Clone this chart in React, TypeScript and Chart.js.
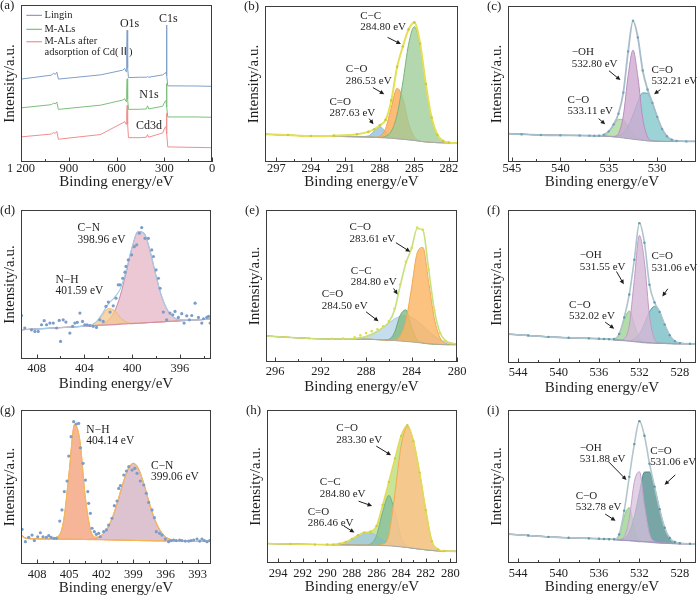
import React, { useEffect, useRef } from 'react';
import { Chart, registerables } from 'chart.js';

Chart.register(...registerables);

const SERIF = '"Liberation Serif", "Times New Roman", "Noto Sans CJK SC", serif';

// ---------------- (a) survey ----------------
const A_X = [1200, 1010, 995, 985, 975, 965, 700, 560, 548, 540, 536, 533, 530, 525, 450, 412, 405, 398, 310, 296, 289, 286, 283, 278, 100, 0];
const A_LIGNIN = [52.8, 55.3, 56.5, 55.8, 57.2, 52.8, 55.5, 58.5, 59.6, 57.5, 70, 84, 60, 53.8, 54, 54, 54.4, 54, 55.5, 56.5, 57, 87.2, 55, 48.5, 48.4, 48.2];
const A_MALS = [34.5, 36.5, 37.5, 37, 38.2, 33.5, 36.2, 39.5, 40.3, 38.5, 46, 53, 40, 33.5, 33.6, 33.8, 35.8, 33.8, 35.5, 38.5, 39, 50, 35, 28.7, 28.7, 28.5];
const A_MALS_CD = [16, 17.8, 18.8, 18.2, 19.5, 14.5, 17.5, 25, 25.8, 24, 30, 36, 24, 15.5, 15.5, 15.8, 17.5, 15.8, 18.5, 22, 22.5, 31, 18, 9.6, 9.3, 9.1];
const A_TICKS = [1200, 900, 600, 300, 0];
const A_TICK_TEXT = ['1 200', '900', '600', '300', '0'];

// ---------------- (b) C1s lignin ----------------
const B_X = [298, 296, 294, 292, 290, 289, 288.5, 288, 287.5, 287, 286.5, 286, 285.5, 285, 284.5, 284, 283.5, 283, 282.5, 282, 281.2];
const B_BASE = [17.8, 17.2, 16.6, 16.4, 16.2, 16, 15.8, 15.6, 15.4, 15.2, 14.9, 14.6, 14.2, 13.8, 13.3, 12.9, 12.6, 12.4, 12.3, 12.2, 12.2];
const B_CDO = [0, 0, 0, 0, 0, 0.7, 4.0, 7.1, 4.0, 0.7, 0, 0, 0, 0, 0, 0, 0, 0, 0, 0, 0];
const B_CO = [0, 0, 0, 0, 0, 0, 0.1, 0.9, 6.1, 20, 32.3, 26.3, 10.7, 2.2, 0.2, 0, 0, 0, 0, 0, 0];
const B_CC = [0, 0, 0, 0, 0, 0, 0, 0.2, 1, 4.6, 15.4, 36.5, 61.3, 72.9, 61.3, 36.5, 15.4, 4.6, 1, 0.2, 0];
const B_RAW = [17.8, 17.3, 16.7, 16.9, 17.8, 19.3, 21, 23.6, 27, 39.5, 61, 74, 85, 89.5, 76, 50, 28.5, 17.5, 13.5, 12.4, 12.2];
const B_TICKS = [297, 294, 291, 288, 285, 282];

// ---------------- (c) O1s lignin ----------------
const C_X = [545.4, 544, 542, 540, 538, 537, 536.5, 536, 535.5, 535, 534.5, 534, 533.5, 533, 532.5, 532, 531.5, 531, 530.5, 530, 529.5, 529, 528.5, 528, 527, 526];
const C_BASE = [18.2, 17.8, 17.3, 17.1, 17, 16.9, 16.8, 16.7, 16.6, 16.4, 16.1, 15.8, 15.4, 15, 14.6, 14.2, 13.9, 13.6, 13.4, 13.3, 13.2, 13.2, 13.2, 13.2, 13.2, 13.2];
const C_CO = [0, 0, 0, 0, 0, 0, 0, 0.15, 0.9, 3.2, 7.5, 11.6, 11.6, 7.5, 3.2, 0.9, 0.15, 0, 0, 0, 0, 0, 0, 0, 0, 0];
const C_OH = [0, 0, 0, 0, 0, 0, 0, 0, 0, 0, 0.2, 2.5, 14.2, 40.4, 57.1, 40.4, 14.2, 2.5, 0.2, 0, 0, 0, 0, 0, 0, 0];
const C_CDO = [0, 0, 0, 0, 0, 0, 0, 0, 0, 0.05, 0.3, 1.1, 3.3, 8, 15.6, 24.3, 30.4, 30.4, 24.3, 15.6, 8, 3.3, 1.1, 0.3, 0, 0];
const C_FIT = [18.2, 17.8, 17.3, 17.1, 17, 16.9, 16.8, 16.85, 17.5, 19.65, 24.1, 31, 44.5, 70.9, 90.5, 79.8, 58.65, 46.5, 37.9, 28.9, 21.2, 16.5, 14.3, 13.5, 13.2, 13.2];
const C_TICKS = [545, 540, 535, 530];

// ---------------- (d) N1s M-ALs ----------------
const D_X = [409.3, 408, 407, 406, 405, 404, 403.5, 403, 402.5, 402, 401.5, 401, 400.5, 400, 399.5, 399, 398.5, 398, 397.5, 397, 396.5, 396, 395, 394, 393.4];
const D_BASE = [19.6, 20.2, 20.6, 21.1, 21.5, 22, 22.2, 22.5, 22.7, 22.9, 23.1, 23.4, 23.6, 23.8, 24, 24.2, 24.5, 24.7, 24.9, 25.2, 25.4, 25.6, 26.1, 26.5, 26.8];
const D_NH = [0, 0, 0, 0, 0, 0.05, 0.4, 2.2, 6.7, 10.9, 9.6, 4.6, 1.2, 0.2, 0, 0, 0, 0, 0, 0, 0, 0, 0, 0, 0];
const D_CN = [0, 0, 0, 0, 0, 0, 0, 0.2, 0.9, 3.1, 8.4, 18.9, 34.5, 51.1, 61.5, 60.2, 48, 31.1, 16.4, 7, 2.4, 0.7, 0, 0, 0];
const D_FIT = [19.6, 20.2, 20.6, 21.1, 21.5, 22.05, 22.6, 24.9, 30.3, 36.9, 41.1, 46.9, 59.3, 75.1, 85.5, 84.4, 72.5, 55.8, 41.3, 32.2, 27.8, 26.3, 26.1, 26.5, 26.8];
const D_RAW_X = [409.26, 408.98, 408.42, 408.14, 407.86, 407.58, 407.36, 407.16, 406.88, 406.6, 406.32, 406.1, 405.99, 405.77, 405.54, 405.21, 404.98, 404.79, 404.59, 404.37, 404.15, 403.96, 403.76, 403.54, 403.26, 402.98, 402.7, 402.42, 402.19, 401.99, 401.85, 401.58, 401.35, 401.16, 401.02, 400.79, 400.6, 400.51, 400.32, 400.04, 399.82, 399.62, 399.4, 399.2, 398.92, 398.64, 398.36, 398.22, 398, 397.8, 397.66, 397.39, 397.11, 396.83, 396.6, 396.41, 396.13, 395.85, 395.65, 395.43, 395.21, 395.01, 394.73, 394.45, 394.17, 394.03, 393.75, 393.61, 393.47];
const D_RAW_Y = [29.2, 20.8, 19.6, 18.5, 18.5, 23, 25.7, 23, 24.1, 24.1, 20.8, 25.9, 11.8, 26.3, 24.8, 17.4, 21.9, 24.1, 24.6, 30.8, 25.2, 23, 23, 22.5, 21.9, 21.2, 26.3, 25.2, 35.3, 38.2, 31.5, 35.7, 40.8, 49.8, 49.8, 54.2, 58.3, 62.1, 66.5, 69.9, 75.4, 76.6, 84.4, 88.2, 81, 81, 73.2, 68.8, 59.8, 54.2, 47.5, 31.5, 26.3, 30.8, 29.7, 31.9, 27.9, 30.4, 24.1, 29, 26.3, 29.2, 37.5, 27.9, 24.1, 27, 27.9, 28.6, 24.1];
const D_TICKS = [408, 404, 400, 396];

// ---------------- (e) C1s M-ALs ----------------
const E_X = [296.8, 295, 293, 291, 290, 289, 288.5, 288, 287.5, 287, 286.5, 286, 285.5, 285, 284.5, 284, 283.5, 283, 282.5, 282, 281.5, 281, 280.5, 280];
const E_BASE = [17.1, 16.3, 15.5, 15.1, 15, 15, 15, 15, 14.9, 14.7, 14.5, 14.3, 14.1, 13.8, 13.5, 13.2, 12.8, 12.4, 12, 11.7, 11.5, 11.4, 11.4, 11.4];
const E_CDO = [0, 0, 0, 0, 0.1, 0.4, 0.9, 1.8, 3.3, 5.5, 8.2, 11.3, 14.2, 16.2, 17, 16.2, 14.2, 11.3, 8.2, 5.5, 3.3, 1.8, 0.9, 0.4];
const E_CC = [0, 0, 0, 0, 0, 0, 0, 0, 0, 0, 0, 0.6, 5.2, 16.8, 20.8, 9.8, 1.8, 0.1, 0, 0, 0, 0, 0, 0];
const E_CO = [0, 0, 0, 0, 0, 0, 0, 0, 0, 0, 0, 0, 0.5, 3.3, 13.6, 35.5, 59, 63, 41, 17.3, 4.6, 0.8, 0.1, 0];
const E_FIT = [17.1, 16.3, 15.5, 15.1, 15.1, 15.4, 15.9, 16.8, 18.2, 20.2, 22.7, 26.2, 34, 50.1, 64.9, 74.7, 87.8, 86.8, 61.2, 34.5, 19.4, 14, 12.4, 11.8];
const E_RAW = [17.1, 16.4, 15.6, 15.3, 15.4, 16.2, 17.5, 19, 20.3, 21.5, 23.5, 27, 35, 51, 66, 75, 88.5, 87, 61, 34, 19, 13.8, 12.3, 11.8];
const E_TICKS = [296, 292, 288, 284, 280];

// ---------------- (f) O1s M-ALs ----------------
const F_X = [545, 543, 541, 539, 537, 536, 535.5, 535, 534.5, 534, 533.5, 533, 532.5, 532, 531.5, 531, 530.5, 530, 529.5, 529, 528.5, 528, 527, 526.4];
const F_BASE = [18.9, 18, 17.1, 16.5, 16.1, 15.9, 15.7, 15.5, 15.2, 14.9, 14.6, 14.3, 14, 13.7, 13.4, 13.2, 13, 12.9, 12.8, 12.7, 12.6, 12.6, 12.6, 12.6];
const F_CO = [0, 0, 0, 0, 0, 0, 0, 0, 0.5, 4, 13.9, 19.7, 11.2, 2.6, 0.2, 0, 0, 0, 0, 0, 0, 0, 0, 0];
const F_OH = [0, 0, 0, 0, 0, 0, 0, 0, 0, 0.05, 1.2, 10.4, 40.6, 69.7, 52.7, 17.6, 2.6, 0.2, 0, 0, 0, 0, 0, 0];
const F_CDO = [0, 0, 0, 0, 0, 0, 0, 0, 0, 0, 0.1, 0.4, 1.7, 5.4, 12.3, 20.3, 24, 20.3, 12.3, 5.4, 1.7, 0.4, 0, 0];
const F_FIT = [18.9, 18, 17.1, 16.5, 16.1, 15.9, 15.7, 15.5, 15.7, 18.95, 29.8, 44.8, 67.5, 91.4, 78.6, 51.1, 39.6, 33.4, 25.1, 18.1, 14.3, 13, 12.6, 12.6];
const F_TICKS = [544, 540, 536, 532, 528];

// ---------------- (g) N1s after Cd(II) ----------------
const G_X = [409.5, 409, 408, 407, 406, 405.5, 405, 404.5, 404, 403.5, 403, 402.5, 402, 401.5, 401, 400.5, 400, 399.5, 399, 398.5, 398, 397.5, 397, 396.5, 396, 395.5, 395, 394, 393, 391.75];
const G_BASE = [18.8, 16.6, 16.4, 16.3, 16.2, 16.15, 16.1, 16.05, 16, 15.9, 15.85, 15.8, 15.75, 15.7, 15.6, 15.55, 15.5, 15.4, 15.3, 15.25, 15.2, 15.1, 15.05, 15, 14.9, 14.85, 14.8, 14.7, 14.6, 14.8];
const G_NH = [0, 0, 0, 0, 1.8, 12.6, 43.5, 74.7, 64.1, 27.5, 5.9, 0.6, 0.05, 0, 0, 0, 0, 0, 0, 0, 0, 0, 0, 0, 0, 0, 0, 0, 0, 0];
const G_CN = [0, 0, 0, 0, 0, 0, 0, 0, 0, 0, 0.3, 1, 2.7, 6.7, 13.8, 24.2, 36.3, 46.2, 50.1, 46.2, 36.3, 24.2, 13.8, 6.7, 2.7, 1, 0.3, 0, 0, 0];
const G_FIT = [18.8, 16.6, 16.4, 16.3, 18, 28.75, 59.6, 90.75, 80.1, 43.4, 22.05, 17.4, 18.5, 22.4, 29.4, 39.75, 51.8, 61.6, 65.4, 61.45, 51.5, 39.3, 28.85, 21.7, 17.6, 15.85, 15.1, 14.7, 14.6, 14.8];
const G_RAW_X = [409.4, 409.09, 408.78, 408.47, 408.25, 407.94, 407.69, 407.44, 407.13, 406.91, 406.69, 406.44, 406.19, 405.88, 405.67, 405.45, 405.2, 405.04, 404.82, 404.58, 404.33, 404.11, 403.95, 403.7, 403.48, 403.26, 403.18, 403.02, 402.86, 402.65, 402.46, 402.24, 402.09, 401.78, 401.53, 401.31, 401, 400.78, 400.53, 400.37, 400.21, 399.9, 399.65, 399.43, 399.12, 398.87, 398.66, 398.35, 398.03, 397.79, 397.57, 397.26, 397.04, 396.86, 396.55, 396.33, 396.02, 395.71, 395.49, 395.24, 394.99, 394.68, 394.46, 394.15, 393.84, 393.62, 393.37, 393.06, 392.81, 392.59, 392.37, 392.12, 391.87];
const G_RAW_Y = [22.5, 14.5, 17.3, 18.8, 15.2, 17.7, 20.3, 17.7, 17.3, 18.4, 17.3, 16.7, 16.7, 27.9, 35.1, 47, 53.9, 70.1, 82.7, 92.4, 90.9, 91.3, 75.5, 65.4, 54.5, 47, 39.4, 32.9, 23.2, 21, 19.3, 19.9, 17.7, 21, 22.1, 25.3, 29.7, 37.9, 40.9, 49.1, 50.9, 57.8, 60.4, 63.2, 61, 62.1, 58.9, 53.9, 51.3, 45.9, 40, 35.1, 30.1, 21, 19.9, 18.8, 16.2, 14.5, 15.2, 15.6, 15.2, 15.6, 15.2, 14.9, 14.9, 15.2, 15.6, 16.2, 14.9, 16.2, 15.2, 14.5, 15.2];
const G_TICKS = [408, 405, 402, 399, 396, 393];

// ---------------- (h) C1s after Cd(II) ----------------
const H_X = [294.9, 293, 291, 290, 289.5, 289, 288.5, 288, 287.5, 287, 286.5, 286, 285.5, 285, 284.5, 284, 283.5, 283, 282.5, 282, 281.5, 281, 280.5, 279.46];
const H_BASE = [12.7, 12.4, 12.1, 12, 11.9, 11.9, 11.8, 11.8, 11.7, 11.7, 11.6, 11.6, 11.4, 11.2, 10.9, 10.5, 10.1, 9.6, 9.1, 8.6, 8.2, 7.9, 7.7, 7.6];
const H_CDO = [0, 0, 0, 0.05, 0.2, 0.7, 1.9, 3.9, 6.4, 8.2, 8.1, 6.2, 3.8, 1.8, 0.6, 0.2, 0.05, 0, 0, 0, 0, 0, 0, 0];
const H_CC = [0, 0, 0, 0, 0, 0, 0, 0, 0, 0, 0.8, 6.4, 21.9, 33, 21.9, 6.4, 0.8, 0.05, 0, 0, 0, 0, 0, 0];
const H_CO = [0, 0, 0, 0, 0, 0, 0, 0, 0, 0, 0, 0, 0.8, 7, 35, 66, 79, 70, 50, 26, 6, 1, 0.1, 0];
const H_FIT = [12.7, 12.4, 12.1, 12.05, 12.1, 12.6, 13.7, 15.7, 18.1, 19.9, 20.5, 24.2, 37.9, 53, 68.4, 83.1, 90, 79.65, 59.1, 34.6, 14.2, 8.9, 7.8, 7.6];
const H_TICKS = [294, 292, 290, 288, 286, 284, 282, 280];

// ---------------- (i) O1s after Cd(II) ----------------
const I_X = [545, 543, 541, 539, 537, 536, 535.5, 535, 534.5, 534, 533.5, 533, 532.5, 532, 531.5, 531, 530.5, 530, 529.5, 529, 528.5, 528, 527, 526.4];
const I_BASE = [18.9, 18, 17.1, 16.5, 16.1, 15.9, 15.7, 15.5, 15.3, 15, 14.8, 14.6, 14.4, 14.1, 13.9, 13.7, 13.4, 13.2, 13, 12.8, 12.7, 12.6, 12.6, 12.6];
const I_CO = [0, 0, 0, 0, 0, 0, 0, 0, 0.2, 3.2, 15.6, 21.6, 8.6, 1, 0.1, 0, 0, 0, 0, 0, 0, 0, 0, 0];
const I_OH = [0, 0, 0, 0, 0, 0, 0, 0, 0, 0.2, 2.4, 14.5, 38.7, 45.6, 23.7, 5.4, 0.5, 0, 0, 0, 0, 0, 0, 0];
const I_CDO = [0, 0, 0, 0, 0, 0, 0, 0, 0.05, 0.3, 1.4, 5.6, 16, 32, 45.5, 45.8, 36, 22, 10, 3.5, 1, 0.3, 0, 0];
const I_FIT = [18.9, 18, 17.1, 16.5, 16.1, 15.9, 15.7, 15.5, 15.55, 18.7, 34.2, 56.3, 77.7, 92.7, 83.2, 64.9, 49.9, 35.2, 23, 16.3, 13.7, 12.9, 12.6, 12.6];
const I_TICKS = [544, 540, 536, 532, 528];

// ---------------- types & helpers ----------------
interface S {
  xs: number[]; ys: number[]; on?: number[]; color: string; w?: number;
  fill?: string; dot?: string; r?: number; noLine?: boolean; linear?: boolean;
}
interface Ann { lines: string[]; fx: number; fy: number; arrow?: number[]; size?: number }
interface Leg { color: string; lines: string[]; fy: number }
interface PanelDef {
  id: string; box: number[]; xMin: number; xMax: number; ticks: number[]; tickText?: string[];
  tickPad: number; axisH: number; titlePad: number;
  top: S[]; base?: S; comps: S[]; anns: Ann[]; legend?: Leg[];
}

const ROW1 = { tickPad: 0.5, axisH: 33, titlePad: 4 };
const ROW2 = { tickPad: 3.5, axisH: 36, titlePad: 1.5 };
const ROW3 = { tickPad: 4.5, axisH: 33, titlePad: 0 };

const PANELS: PanelDef[] = [
  {
    id: 'a', box: [21, 5, 212, 162], xMin: 0, xMax: 1200, ticks: A_TICKS, tickText: A_TICK_TEXT, ...ROW1,
    top: [
      { xs: A_X, ys: A_LIGNIN, color: '#7f9fc8', linear: true },
      { xs: A_X, ys: A_MALS, color: '#7cbf7c', linear: true },
      { xs: A_X, ys: A_MALS_CD, color: '#f08e8e', linear: true },
    ],
    comps: [],
    anns: [
      { lines: ['O1s'], fx: 0.518, fy: 0.121, size: 12 },
      { lines: ['C1s'], fx: 0.723, fy: 0.091, size: 12 },
      { lines: ['N1s'], fx: 0.619, fy: 0.57, size: 12 },
      { lines: ['Cd3d'], fx: 0.602, fy: 0.772, size: 12 },
    ],
    legend: [
      { color: '#7f9fc8', lines: ['Lingin'], fy: 0.066 },
      { color: '#7cbf7c', lines: ['M-ALs'], fy: 0.155 },
      { color: '#f08e8e', lines: ['M-ALs after', 'adsorption of Cd(Ⅱ)'], fy: 0.234 },
    ],
  },
  {
    id: 'b', box: [265, 6, 458, 162], xMin: 281.2, xMax: 298, ticks: B_TICKS, ...ROW1,
    top: [{ xs: B_X, ys: B_RAW, color: '#e3df57', w: 2, r: 1.3, dot: '#cfc935' }],
    base: { xs: B_X, ys: B_BASE, color: '#a9a9a9' },
    comps: [
      { xs: B_X, ys: B_CC, on: B_BASE, color: '#76b576', fill: 'rgba(158,204,152,0.78)' },
      { xs: B_X, ys: B_CO, on: B_BASE, color: '#f4a04a', fill: 'rgba(252,178,100,0.88)' },
      { xs: B_X, ys: B_CDO, on: B_BASE, color: '#8dbad8', fill: 'rgba(160,200,226,0.9)' },
    ],
    anns: [
      { lines: ['C−C', '284.80 eV'], fx: 0.493, fy: 0.062, arrow: [0.635, 0.201, 0.704, 0.244] },
      { lines: ['C−O', '286.53 eV'], fx: 0.419, fy: 0.407, arrow: [0.559, 0.523, 0.618, 0.565] },
      { lines: ['C=O', '287.63 eV'], fx: 0.334, fy: 0.615, arrow: [0.54, 0.722, 0.562, 0.758] },
    ],
  },
  {
    id: 'c', box: [508, 6, 699, 162], xMin: 526, xMax: 545.4, ticks: C_TICKS, ...ROW1,
    top: [{ xs: C_X, ys: C_FIT, color: '#a9bccb', w: 1.8, r: 1.2, dot: '#6ea4b8' }],
    base: { xs: C_X, ys: C_BASE, color: '#a4a4b4' },
    comps: [
      { xs: C_X, ys: C_OH, on: C_BASE, color: '#b98cbd', fill: 'rgba(206,170,210,0.8)' },
      { xs: C_X, ys: C_CDO, on: C_BASE, color: '#4ea9b3', fill: 'rgba(122,196,200,0.75)' },
      { xs: C_X, ys: C_CO, on: C_BASE, color: '#95c885', fill: 'rgba(178,220,162,0.85)' },
    ],
    anns: [
      { lines: ['−OH', '532.80 eV'], fx: 0.339, fy: 0.298, arrow: [0.537, 0.415, 0.598, 0.475] },
      { lines: ['C=O', '532.21 eV'], fx: 0.763, fy: 0.411, arrow: [0.812, 0.535, 0.777, 0.565] },
      { lines: ['C−O', '533.11 eV'], fx: 0.317, fy: 0.604, arrow: [0.482, 0.722, 0.517, 0.758] },
    ],
  },
  {
    id: 'd', box: [21, 210, 211, 359], xMin: 393.4, xMax: 409.3, ticks: D_TICKS, ...ROW2,
    top: [
      { xs: D_RAW_X, ys: D_RAW_Y, color: '#7b9dc8', noLine: true, r: 1.6 },
      { xs: D_X, ys: D_FIT, color: '#a6cbe8', w: 1.2 },
    ],
    base: { xs: D_X, ys: D_BASE, color: '#d08ea6', w: 1.2 },
    comps: [
      { xs: D_X, ys: D_NH, on: D_BASE, color: '#f0b66c', fill: 'rgba(246,200,140,0.75)' },
      { xs: D_X, ys: D_CN, on: D_BASE, color: '#c98aa0', fill: 'rgba(230,188,203,0.82)' },
    ],
    anns: [
      { lines: ['C−N', '398.96 eV'], fx: 0.298, fy: 0.123, size: 11.5 },
      { lines: ['N−H', '401.59 eV'], fx: 0.181, fy: 0.469, size: 11.5 },
    ],
  },
  {
    id: 'e', box: [266, 210, 457, 362], xMin: 280, xMax: 296.8, ticks: E_TICKS, ...ROW2,
    top: [
      { xs: E_X, ys: E_RAW, color: '#e0dc4e', noLine: true, r: 1.3 },
      { xs: E_X, ys: E_FIT, color: '#c6e07e', w: 1.6 },
    ],
    base: { xs: E_X, ys: E_BASE, color: '#b0a898' },
    comps: [
      { xs: E_X, ys: E_CO, on: E_BASE, color: '#f5a64e', fill: 'rgba(250,180,100,0.82)' },
      { xs: E_X, ys: E_CC, on: E_BASE, color: '#6fa86f', fill: 'rgba(128,184,128,0.78)' },
      { xs: E_X, ys: E_CDO, on: E_BASE, color: '#a8c8e0', fill: 'rgba(172,206,230,0.7)' },
    ],
    anns: [
      { lines: ['C−O', '283.61 eV'], fx: 0.437, fy: 0.114, arrow: [0.68, 0.215, 0.755, 0.275] },
      { lines: ['C−C', '284.80 eV'], fx: 0.444, fy: 0.4, arrow: [0.668, 0.516, 0.689, 0.556] },
      { lines: ['C=O', '284.50 eV'], fx: 0.292, fy: 0.556, arrow: [0.524, 0.67, 0.589, 0.732] },
    ],
  },
  {
    id: 'f', box: [508, 210, 699, 363], xMin: 526.4, xMax: 545, ticks: F_TICKS, ...ROW2,
    top: [{ xs: F_X, ys: F_FIT, color: '#adc3cc', w: 1.6, r: 1.2, dot: '#5c9fb0' }],
    base: { xs: F_X, ys: F_BASE, color: '#9fa2bb', w: 1.4 },
    comps: [
      { xs: F_X, ys: F_OH, on: F_BASE, color: '#c09ac4', fill: 'rgba(214,184,215,0.82)' },
      { xs: F_X, ys: F_CDO, on: F_BASE, color: '#4a9ca8', fill: 'rgba(110,186,192,0.75)' },
      { xs: F_X, ys: F_CO, on: F_BASE, color: '#8cc47c', fill: 'rgba(165,215,155,0.85)' },
    ],
    anns: [
      { lines: ['−OH', '531.55 eV'], fx: 0.381, fy: 0.298, arrow: [0.577, 0.402, 0.616, 0.485] },
      { lines: ['C=O', '531.06 eV'], fx: 0.763, fy: 0.304, arrow: [0.85, 0.515, 0.821, 0.565] },
      { lines: ['C−O', '532.02 eV'], fx: 0.325, fy: 0.62, arrow: [0.517, 0.733, 0.565, 0.776] },
    ],
  },
  {
    id: 'g', box: [21, 410, 211, 564], xMin: 391.75, xMax: 409.5, ticks: G_TICKS, ...ROW3,
    top: [
      { xs: G_RAW_X, ys: G_RAW_Y, color: '#7b9dc8', noLine: true, r: 1.6 },
      { xs: G_X, ys: G_FIT, color: '#f4b860', w: 1.2 },
    ],
    base: { xs: G_X, ys: G_BASE, color: '#f4b455', w: 1.2 },
    comps: [
      { xs: G_X, ys: G_NH, on: G_BASE, color: '#f5a060', fill: 'rgba(245,165,128,0.82)' },
      { xs: G_X, ys: G_CN, on: G_BASE, color: '#c88ea0', fill: 'rgba(214,180,196,0.82)' },
    ],
    anns: [
      { lines: ['N−H', '404.14 eV'], fx: 0.344, fy: 0.13, size: 11.5 },
      { lines: ['C−N', '399.06 eV'], fx: 0.684, fy: 0.361, size: 11.5 },
    ],
  },
  {
    id: 'h', box: [267, 410, 457, 563], xMin: 279.46, xMax: 294.9, ticks: H_TICKS, ...ROW3,
    top: [{ xs: H_X, ys: H_FIT, color: '#e0dc5a', w: 1.6, r: 1.2, dot: '#d2cc3a' }],
    base: { xs: H_X, ys: H_BASE, color: '#a8a8a0' },
    comps: [
      { xs: H_X, ys: H_CO, on: H_BASE, color: '#f5a850', fill: 'rgba(250,196,140,0.88)' },
      { xs: H_X, ys: H_CC, on: H_BASE, color: '#78b090', fill: 'rgba(128,188,158,0.72)' },
      { xs: H_X, ys: H_CDO, on: H_BASE, color: '#9cc0dc', fill: 'rgba(166,202,226,0.85)' },
      { xs: H_X, ys: H_FIT, color: 'rgba(0,0,0,0)', w: 0, fill: 'rgba(184,220,122,0.78)' },
    ],
    anns: [
      { lines: ['C−O', '283.30 eV'], fx: 0.365, fy: 0.12, arrow: [0.575, 0.236, 0.653, 0.295] },
      { lines: ['C−C', '284.80 eV'], fx: 0.277, fy: 0.474, arrow: [0.482, 0.596, 0.553, 0.627] },
      { lines: ['C=O', '286.46 eV'], fx: 0.214, fy: 0.666, arrow: [0.404, 0.758, 0.46, 0.801] },
    ],
  },
  {
    id: 'i', box: [508, 410, 699, 563], xMin: 526.4, xMax: 545, ticks: I_TICKS, ...ROW3,
    top: [{ xs: I_X, ys: I_FIT, color: '#b2c6cc', w: 1.6, r: 1.2, dot: '#5c98a6' }],
    base: { xs: I_X, ys: I_BASE, color: '#a597bf', w: 1.4 },
    comps: [
      { xs: I_X, ys: I_OH, on: I_BASE, color: '#c2a2ca', fill: 'rgba(216,192,222,0.72)' },
      { xs: I_X, ys: I_CDO, on: I_BASE, color: '#4a8a8c', fill: 'rgba(96,150,152,0.85)' },
      { xs: I_X, ys: I_CO, on: I_BASE, color: '#90c880', fill: 'rgba(165,215,155,0.88)' },
    ],
    anns: [
      { lines: ['−OH', '531.88 eV'], fx: 0.381, fy: 0.25, arrow: [0.534, 0.337, 0.63, 0.457] },
      { lines: ['C=O', '531.06 eV'], fx: 0.757, fy: 0.267, arrow: [0.89, 0.424, 0.833, 0.489] },
      { lines: ['C−O', '532.78 eV'], fx: 0.36, fy: 0.561, arrow: [0.517, 0.68, 0.572, 0.724] },
    ],
  },
];

function mk(s: S): any {
  const data = s.xs.map((x, i) => ({ x, y: s.ys[i] + (s.on ? s.on[i] : 0) }));
  return {
    data,
    borderColor: s.color,
    borderWidth: s.noLine ? 0 : (s.w ?? 1),
    showLine: !s.noLine,
    pointRadius: s.r ?? 0,
    pointBackgroundColor: s.dot ?? s.color,
    pointBorderWidth: 0,
    cubicInterpolationMode: s.linear ? 'default' : 'monotone',
    tension: 0,
    fill: false,
    backgroundColor: 'transparent',
  };
}

function buildDatasets(p: PanelDef) {
  const ds: any[] = p.top.map(mk);
  let baseIdx = -1;
  if (p.base) { baseIdx = ds.length; ds.push(mk(p.base)); }
  p.comps.forEach((c) => ds.push({ ...mk(c), fill: baseIdx, backgroundColor: c.fill }));
  return ds;
}

function arrow(ctx: CanvasRenderingContext2D, x1: number, y1: number, x2: number, y2: number) {
  const ang = Math.atan2(y2 - y1, x2 - x1);
  const hl = 4.5, hw = 2.2;
  ctx.beginPath();
  ctx.moveTo(x1, y1);
  ctx.lineTo(x2 - Math.cos(ang) * hl * 0.7, y2 - Math.sin(ang) * hl * 0.7);
  ctx.stroke();
  ctx.beginPath();
  ctx.moveTo(x2, y2);
  ctx.lineTo(x2 - Math.cos(ang) * hl + Math.sin(ang) * hw, y2 - Math.sin(ang) * hl - Math.cos(ang) * hw);
  ctx.lineTo(x2 - Math.cos(ang) * hl - Math.sin(ang) * hw, y2 - Math.sin(ang) * hl + Math.cos(ang) * hw);
  ctx.closePath();
  ctx.fill();
}

function decor(p: PanelDef) {
  return {
    id: 'decor_' + p.id,
    afterDraw(chart: any) {
      const { ctx, chartArea: a } = chart;
      const xs = chart.scales.x;
      const w = a.right - a.left;
      const h = a.bottom - a.top;
      ctx.save();
      // frame
      ctx.strokeStyle = '#3c3c3c';
      ctx.lineWidth = 1;
      ctx.strokeRect(a.left + 0.5, a.top + 0.5, w - 1, h - 1);
      // inward ticks
      const step = p.ticks[1] - p.ticks[0];
      const lo = Math.min(p.xMin, p.xMax), hi = Math.max(p.xMin, p.xMax);
      const eps = Math.abs(step) * 0.08;
      ctx.beginPath();
      p.ticks.forEach((v) => {
        const px = Math.round(xs.getPixelForValue(v)) + 0.5;
        ctx.moveTo(px, a.bottom);
        ctx.lineTo(px, a.bottom - 4.5);
      });
      for (let k = -20; k <= 20; k++) {
        const v = p.ticks[0] + (k + 0.5) * step;
        if (v <= lo + eps || v >= hi - eps) continue;
        const px = Math.round(xs.getPixelForValue(v)) + 0.5;
        ctx.moveTo(px, a.bottom);
        ctx.lineTo(px, a.bottom - 3);
      }
      ctx.stroke();
      // panel label
      ctx.fillStyle = '#1e1e1e';
      ctx.textBaseline = 'middle';
      ctx.textAlign = 'left';
      ctx.font = `13px ${SERIF}`;
      ctx.fillText(`(${p.id})`, a.left - 21, a.top + 1);
      // y title
      ctx.save();
      ctx.translate(a.left - 11, (a.top + a.bottom) / 2);
      ctx.rotate(-Math.PI / 2);
      ctx.textAlign = 'center';
      ctx.font = `15px ${SERIF}`;
      ctx.fillText('Intensity/a.u.', 0, 0);
      ctx.restore();
      // annotations
      ctx.strokeStyle = '#1e1e1e';
      ctx.fillStyle = '#1e1e1e';
      p.anns.forEach((an) => {
        ctx.font = `${an.size ?? 11}px ${SERIF}`;
        an.lines.forEach((s, i) => ctx.fillText(s, a.left + an.fx * w, a.top + an.fy * h + i * 11.3));
        if (an.arrow) {
          const r = an.arrow;
          arrow(ctx, a.left + r[0] * w, a.top + r[1] * h, a.left + r[2] * w, a.top + r[3] * h);
        }
      });
      // legend
      if (p.legend) {
        ctx.font = `10.5px ${SERIF}`;
        p.legend.forEach((lg) => {
          const y = a.top + lg.fy * h;
          ctx.strokeStyle = lg.color;
          ctx.lineWidth = 1.2;
          ctx.beginPath();
          ctx.moveTo(a.left + 0.028 * w, y);
          ctx.lineTo(a.left + 0.11 * w, y);
          ctx.stroke();
          ctx.fillStyle = '#1e1e1e';
          lg.lines.forEach((s, i) => ctx.fillText(s, a.left + 0.123 * w, y + i * 10.6));
        });
      }
      ctx.restore();
    },
  };
}

function Panel({ p }: { p: PanelDef }) {
  const ref = useRef<HTMLCanvasElement>(null);
  const [l, t, r, b] = p.box;
  const padL = Math.min(l, 24);
  const padT = Math.min(t, 8);
  const padR = Math.min(700 - r, 14);
  const W = padL + (r - l) + padR;
  const H = padT + (b - t) + p.axisH;

  useEffect(() => {
    if (!ref.current) return;
    const chart = new Chart(ref.current, {
      type: 'line',
      data: { datasets: buildDatasets(p) },
      options: {
        animation: false,
        responsive: false,
        events: [],
        layout: { padding: { left: padL, top: padT, right: padR, bottom: 0 } },
        plugins: { legend: { display: false }, tooltip: { enabled: false }, title: { display: false } },
        scales: {
          x: {
            type: 'linear',
            reverse: true,
            min: p.xMin,
            max: p.xMax,
            afterBuildTicks: (s: any) => { s.ticks = p.ticks.map((v) => ({ value: v })); },
            afterFit: (s: any) => { s.height = p.axisH; },
            ticks: {
              autoSkip: false,
              maxRotation: 0,
              minRotation: 0,
              padding: p.tickPad,
              color: '#1e1e1e',
              font: { family: SERIF, size: 12.5, lineHeight: 1 },
              callback: (v: any, i: number) => (p.tickText ? p.tickText[i] : String(v)),
            },
            grid: { display: false, drawTicks: false },
            border: { display: false },
            title: {
              display: true,
              text: 'Binding energy/eV',
              color: '#1e1e1e',
              font: { family: SERIF, size: 15, lineHeight: 1.2 },
              padding: { top: 0, bottom: p.titlePad },
            },
          },
          y: { display: false, min: 0, max: 100 },
        },
      } as any,
      plugins: [decor(p)],
    });
    return () => chart.destroy();
  }, []);

  return (
    <canvas
      ref={ref}
      width={W}
      height={H}
      style={{ position: 'absolute', left: l - padL, top: t - padT, width: W, height: H }}
    />
  );
}

export default function App() {
  return (
    <div style={{ position: 'absolute', left: 0, top: 0, width: 700, height: 595, overflow: 'hidden', background: '#ffffff' }}>
      {PANELS.map((p) => (
        <Panel key={p.id} p={p} />
      ))}
    </div>
  );
}
